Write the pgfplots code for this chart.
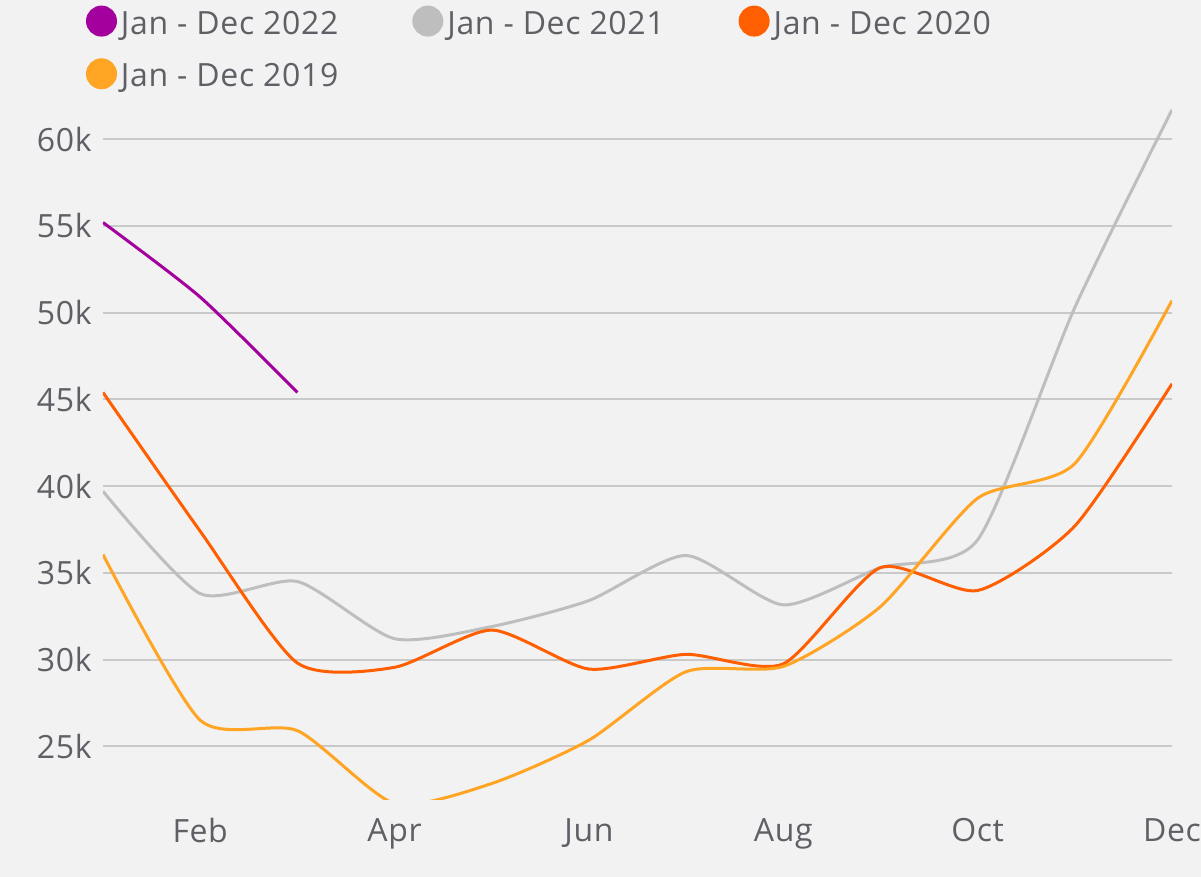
\documentclass[border=0pt]{standalone}
\usepackage{fontspec}
\setmainfont{Open Sans}[LetterSpace=2]
\usepackage{pgfplots}
\pgfplotsset{compat=1.18}
\definecolor{bg}{HTML}{F2F2F2}
\definecolor{txt}{HTML}{5F5F66}
\definecolor{gridc}{HTML}{C9C9C9}
\definecolor{c22}{HTML}{A4009E}
\definecolor{c21}{HTML}{BEBEBE}
\definecolor{c20}{HTML}{FF5F00}
\definecolor{c19}{HTML}{FFA423}
\begin{document}
\begin{tikzpicture}[x=1pt,y=1pt]
\useasboundingbox (-51.5,-38.5) rectangle (549,400);
\fill[bg] (-51.5,-38.5) rectangle (549,400);
\begin{axis}[
  at={(0,0)}, anchor=south west,
  scale only axis, width=534.5pt, height=347.7pt,
  xmin=0, xmax=11, ymin=21.9, ymax=62,
  axis line style={draw=none},
  major tick length=0pt,
  xtick={1,3,5,7,9,11},
  xticklabels={Feb,Apr,Jun,Aug,Oct,Dec},
  ytick={25,30,35,40,45,50,55,60},
  yticklabel={\pgfmathprintnumber{\tick}k},
  /pgf/number format/assume math mode=true,
  ymajorgrids,
  grid style={gridc, line width=1pt},
  tick label style={font=\fontsize{16}{19}\selectfont, text=txt, inner sep=0pt},
  yticklabel style={anchor=east, xshift=-5.5pt},
  xticklabel style={anchor=north, yshift=-9pt},
  legend columns=3,
  legend cell align=left,
  legend style={draw=none, fill=none, inner sep=0pt, outer sep=0pt,
    at={(0,1)}, anchor=north west, xshift=-8.5pt, yshift=49.5pt,
    font=\fontsize{16}{19}\selectfont, text=txt,
    row sep=8pt,
    nodes={inner sep=0pt, text height=12pt, text depth=4pt},
    /tikz/every odd column/.append style={column sep=2pt},
    /tikz/every even column/.append style={column sep=37pt}},
  legend image code/.code={\fill (7pt,0.26em) circle (7pt);},
  every axis plot/.append style={line width=1.5pt, smooth, tension=0.4},
]
\addplot[color=c22] coordinates {(0,55.2)(1,50.9)(2,45.4)};
\addlegendentry{Jan - Dec 2022}
\addplot[color=c21] coordinates {(0,39.7)(1,33.8)(2,34.5)(3,31.2)(4,31.9)(5,33.4)(6,36.0)(7,33.15)(8,35.3)(9,36.9)(10,50.3)(11,61.7)};
\addlegendentry{Jan - Dec 2021}
\addplot[color=c20] coordinates {(0,45.4)(1,37.4)(2,29.8)(3,29.55)(4,31.7)(5,29.45)(6,30.3)(7,29.75)(8,35.3)(9,33.98)(10,37.7)(11,45.9)};
\addlegendentry{Jan - Dec 2020}
\addplot[color=c19] coordinates {(0,36.05)(1,26.5)(2,25.9)(3,21.7)(4,22.85)(5,25.35)(6,29.3)(7,29.6)(8,33.05)(9,39.3)(10,41.3)(11,50.7)};
\addlegendentry{Jan - Dec 2019}
\end{axis}
\end{tikzpicture}
\end{document}
